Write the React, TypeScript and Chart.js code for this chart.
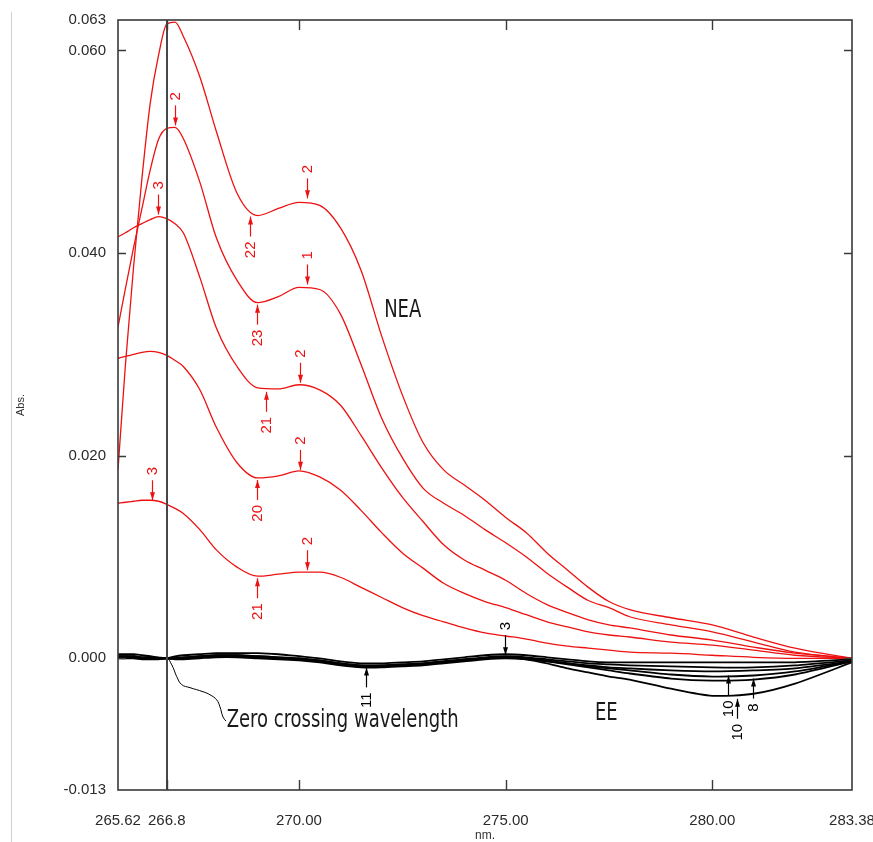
import React, { useEffect, useRef } from "react";
import { Chart, registerables } from "chart.js";

Chart.register(...registerables);

// ---------- data ----------
const wavelengths = [
  265.62, 265.8, 266.0, 266.2, 266.4, 266.6, 266.8, 267.0, 267.2, 267.6, 268.0, 268.5,
  269.0, 269.5, 270.0, 270.5, 271.0, 271.5, 272.0, 272.5, 273.0, 273.5, 274.0, 274.5,
  275.0, 275.5, 276.0, 276.5, 277.0, 277.5, 278.0, 279.0, 280.0, 281.0, 282.0, 283.38,
];

const neaCurve1 = [
  0.0186, 0.029, 0.0388, 0.0474, 0.0548, 0.0595, 0.0626, 0.0628, 0.0614, 0.0574, 0.052, 0.0459,
  0.0437, 0.0444, 0.045, 0.0447, 0.0425, 0.0383, 0.0318, 0.026, 0.0213, 0.0186, 0.0171, 0.0156,
  0.0139, 0.0124, 0.0104, 0.0087, 0.007, 0.0056, 0.0048, 0.004, 0.0033, 0.0021, 0.001, 0.0,
];
const neaCurve2 = [
  0.0327, 0.0365, 0.0406, 0.0444, 0.0482, 0.0512, 0.0523, 0.0524, 0.0513, 0.0470, 0.0415, 0.0373,
  0.0351, 0.0357, 0.0366, 0.0364, 0.034, 0.029, 0.0237, 0.0198, 0.0168, 0.0153, 0.0141, 0.0127,
  0.0114, 0.01, 0.0084, 0.007, 0.0057, 0.005, 0.0041, 0.0033, 0.0026, 0.0016, 0.0006, 0.0,
];
const neaCurve3 = [
  0.0416, 0.042, 0.0425, 0.0429, 0.0433, 0.0436, 0.0434, 0.0429, 0.042, 0.0376, 0.0326, 0.0288,
  0.0267, 0.0266, 0.027, 0.0265, 0.025, 0.022, 0.0188, 0.0159, 0.0135, 0.0112, 0.0097, 0.0087,
  0.0077, 0.0064, 0.0053, 0.0045, 0.0038, 0.0033, 0.003, 0.0023, 0.0018, 0.0011, 0.0005, 0.0,
];
const neaCurve4 = [
  0.0296, 0.0298, 0.03, 0.0302, 0.0303, 0.0302, 0.0299, 0.0294, 0.0288, 0.0265, 0.0228, 0.0193,
  0.0178, 0.018, 0.0185, 0.0179, 0.0166, 0.0146, 0.0124, 0.0104, 0.0089, 0.0074, 0.0064, 0.0056,
  0.005, 0.0043, 0.0036, 0.0031, 0.0026, 0.0023, 0.0021, 0.0016, 0.0013, 0.0008, 0.0003, 0.0,
];
const neaCurve5 = [
  0.0153, 0.0154, 0.0155, 0.0156, 0.0156, 0.0155, 0.0152, 0.0148, 0.0143, 0.0127, 0.0107, 0.009,
  0.0081, 0.0083, 0.0085, 0.0085, 0.008, 0.007, 0.006, 0.005, 0.0042, 0.0036, 0.003, 0.0025,
  0.0022, 0.0019, 0.0015, 0.0012, 0.001, 0.0008, 0.0006, 0.0005, 0.0003, 0.0001, 0.0, 0.0,
];

const eeCurve1 = [
  0.0004, 0.0004, 0.0004, 0.0003, 0.0002, 0.0001, 0.0, 0.0002, 0.0003, 0.0004, 0.0005, 0.0005,
  0.0005, 0.0004, 0.0002, 0.0, -0.0003, -0.0005, -0.0005, -0.0004, -0.0003, -0.0001, 0.0001, 0.0003,
  0.0004, 0.0003, 0.0001, -0.0001, -0.0003, -0.0004, -0.0004, -0.0004, -0.0004, -0.0004, -0.0004, -0.0001,
];
const eeCurve2 = [
  0.0002, 0.0002, 0.0002, 0.0001, 0.0001, 0.0, 0.0, 0.0, 0.0001, 0.0002, 0.0003, 0.0003,
  0.0002, 0.0001, 0.0, -0.0002, -0.0005, -0.0007, -0.0007, -0.0006, -0.0005, -0.0003, -0.0001, 0.0001,
  0.0002, 0.0001, -0.0001, -0.0003, -0.0005, -0.0006, -0.0007, -0.0008, -0.0009, -0.0009, -0.0007, -0.0002,
];
const eeCurve3 = [
  0.0, 0.0, 0.0, -0.0001, -0.0001, -0.0001, 0.0, -0.0001, -0.0001, 0.0, 0.0001, 0.0001,
  0.0, -0.0001, -0.0002, -0.0004, -0.0007, -0.0009, -0.0009, -0.0008, -0.0007, -0.0005, -0.0003, -0.0001,
  0.0, -0.0001, -0.0003, -0.0005, -0.0007, -0.0009, -0.001, -0.0012, -0.0013, -0.0012, -0.001, -0.0003,
];
const eeCurve4 = [
  0.0001, 0.0001, 0.0001, 0.0, 0.0, 0.0, 0.0, 0.0, 0.0, 0.0001, 0.0002, 0.0002,
  0.0001, 0.0, -0.0001, -0.0003, -0.0006, -0.0008, -0.0008, -0.0007, -0.0006, -0.0004, -0.0002, 0.0,
  0.0001, 0.0, -0.0002, -0.0005, -0.0008, -0.001, -0.0012, -0.0016, -0.0018, -0.0017, -0.0013, -0.0003,
];
const eeCurve5 = [
  0.0002, 0.0002, 0.0002, 0.0001, 0.0001, 0.0, 0.0, 0.0, 0.0001, 0.0002, 0.0003, 0.0003,
  0.0002, 0.0001, 0.0, -0.0002, -0.0005, -0.0007, -0.0007, -0.0006, -0.0005, -0.0003, -0.0001, 0.0,
  0.0001, 0.0, -0.0003, -0.0006, -0.0009, -0.0012, -0.0015, -0.002, -0.0022, -0.0021, -0.0016, -0.0003,
];
const eeCurve6 = [
  0.0001, 0.0001, 0.0001, 0.0, 0.0, 0.0, 0.0, 0.0, 0.0, 0.0001, 0.0002, 0.0002,
  0.0001, 0.0, -0.0001, -0.0003, -0.0006, -0.0008, -0.0008, -0.0007, -0.0006, -0.0004, -0.0002, 0.0,
  0.0001, -0.0001, -0.0005, -0.001, -0.0014, -0.0018, -0.0021, -0.003, -0.0037, -0.0035, -0.0025, -0.0004,
];

const xTickValues = [265.62, 266.8, 270.0, 275.0, 280.0, 283.38];
const xTickLabels = ["265.62", "266.8", "270.00", "275.00", "280.00", "283.38"];
const yTickValues = [-0.013, 0.0, 0.02, 0.04, 0.06, 0.063];
const yTickLabels = ["-0.013", "0.000", "0.020", "0.040", "0.060", "0.063"];

const zeroCrossingWavelength = 266.8;

// leader line from the zero crossing point to its caption
const leaderX = [266.837, 266.951, 267.04, 267.161, 267.362, 267.677, 267.846, 268.008, 268.088, 268.161, 268.233];
const leaderY = [0.0, -0.0009, -0.0018, -0.0026, -0.0029, -0.0033, -0.0036, -0.0041, -0.0048, -0.0058, -0.0062];

// peak / trough markers
const markerWave = [267.0, 266.59, 270.19, 268.81, 270.19, 268.98, 270.02, 269.2, 270.02, 268.98, 266.44, 270.19, 268.98, 274.98, 271.62, 280.38, 280.98, 280.6];
const markerValue = [0.0524, 0.0436, 0.0452, 0.0438, 0.0367, 0.0351, 0.027, 0.0265, 0.0184, 0.0178, 0.0154, 0.0085, 0.0081, 0.0001, -0.0007, -0.0015, -0.0018, -0.0038];
const markerText = ["2", "3", "2", "22", "1", "23", "2", "21", "2", "20", "3", "2", "21", "3", "11", "10", "8", "10"];
const markerSide = [1, 1, 1, -1, 1, -1, 1, -1, 1, -1, 1, 1, -1, 1, -1, -1, -1, -1];
const markerGroup = ["NEA", "NEA", "NEA", "NEA", "NEA", "NEA", "NEA", "NEA", "NEA", "NEA", "NEA", "NEA", "NEA", "EE", "EE", "EE", "EE", "EE"];

// captions (anchored in data units, left / baseline)
const captionText = ["NEA", "EE", "Zero crossing wavelength"];
const captionWave = [272.06, 277.16, 268.25];
const captionValue = [0.0337, -0.0061, -0.0068];

const RED = "#ee1111";
const BLACK = "#000000";
const CAPTION_FONT = "20px 'DejaVu Sans Condensed', 'Liberation Sans', sans-serif";

const toXY = (ys: number[]) => wavelengths.map((w, i) => ({ x: w, y: ys[i] }));

const decorPlugin = {
  id: "decor",
  afterDatasetsDraw(chart: any) {
    const { ctx, chartArea, scales } = chart;
    const { left, top, right, bottom } = chartArea;
    const xs = scales.x;
    const ys = scales.y;
    ctx.save();

    // faint figure border at the far left
    ctx.strokeStyle = "#cfcfcf";
    ctx.lineWidth = 1;
    ctx.beginPath();
    ctx.moveTo(11.5, 12);
    ctx.lineTo(11.5, chart.height);
    ctx.stroke();

    // zero crossing vertical line
    const zx = Math.round(xs.getPixelForValue(zeroCrossingWavelength));
    ctx.strokeStyle = "#474747";
    ctx.lineWidth = 2;
    ctx.beginPath();
    ctx.moveTo(zx, top);
    ctx.lineTo(zx, bottom);
    ctx.stroke();

    // frame
    ctx.strokeStyle = "#3a3a3a";
    ctx.lineWidth = 1.6;
    ctx.strokeRect(left, top, right - left, bottom - top);

    // inward ticks on all four sides
    ctx.lineWidth = 1.4;
    xTickValues.slice(1, -1).forEach((v) => {
      const px = Math.round(xs.getPixelForValue(v)) + 0.5;
      ctx.beginPath();
      ctx.moveTo(px, bottom);
      ctx.lineTo(px, bottom - 10);
      ctx.moveTo(px, top);
      ctx.lineTo(px, top + 10);
      ctx.stroke();
    });
    yTickValues.slice(1, -1).forEach((v) => {
      const py = Math.round(ys.getPixelForValue(v)) + 0.5;
      ctx.beginPath();
      ctx.moveTo(left, py);
      ctx.lineTo(left + 8, py);
      ctx.moveTo(right, py);
      ctx.lineTo(right - 8, py);
      ctx.stroke();
    });

    // markers
    ctx.font = "15px 'Liberation Sans', Arial, sans-serif";
    markerWave.forEach((w, i) => {
      const px = Math.round(xs.getPixelForValue(w)) + 0.5;
      const py = ys.getPixelForValue(markerValue[i]);
      const s = markerSide[i];
      const col = markerGroup[i] === "NEA" ? RED : BLACK;
      ctx.strokeStyle = col;
      ctx.fillStyle = col;
      ctx.lineWidth = 1.2;
      const tip = py - s * 2;
      const end = py - s * 22;
      ctx.beginPath();
      ctx.moveTo(px, tip);
      ctx.lineTo(px, end);
      ctx.stroke();
      ctx.beginPath();
      ctx.moveTo(px, tip);
      ctx.lineTo(px - 2.5, tip - s * 8);
      ctx.lineTo(px + 2.5, tip - s * 8);
      ctx.closePath();
      ctx.fill();
      ctx.save();
      ctx.translate(px, end - s * 5);
      ctx.rotate(-Math.PI / 2);
      ctx.textAlign = s === 1 ? "left" : "right";
      ctx.textBaseline = "middle";
      ctx.fillText(markerText[i], 0, 0);
      ctx.restore();
    });

    // captions (tall, narrow lettering as in the source figure)
    ctx.font = CAPTION_FONT;
    ctx.fillStyle = "#1a1a1a";
    ctx.textAlign = "left";
    ctx.textBaseline = "alphabetic";
    captionText.forEach((t, i) => {
      ctx.save();
      ctx.translate(xs.getPixelForValue(captionWave[i]), ys.getPixelForValue(captionValue[i]));
      ctx.scale(1, 1.2);
      ctx.fillText(t, 0, 0);
      ctx.restore();
    });

    ctx.restore();
  },
};

export default function App() {
  const ref = useRef<HTMLCanvasElement | null>(null);

  useEffect(() => {
    if (!ref.current) return;
    const neaSeries = [neaCurve1, neaCurve2, neaCurve3, neaCurve4, neaCurve5];
    const eeSeries = [eeCurve1, eeCurve2, eeCurve3, eeCurve4, eeCurve5, eeCurve6];
    const datasets: any[] = [
      ...eeSeries.map((s, i) => ({
        label: "EE " + (i + 1),
        data: toXY(s),
        borderColor: BLACK,
        borderWidth: 1.8,
        pointRadius: 0,
        tension: 0.25,
      })),
      ...neaSeries.map((s, i) => ({
        label: "NEA " + (i + 1),
        data: toXY(s),
        borderColor: RED,
        borderWidth: 1.3,
        pointRadius: 0,
        cubicInterpolationMode: "monotone",
      })),
      {
        label: "leader",
        data: leaderX.map((x, i) => ({ x, y: leaderY[i] })),
        borderColor: BLACK,
        borderWidth: 1,
        pointRadius: 0,
        tension: 0.4,
      },
    ];

    const chart = new Chart(ref.current, {
      type: "line",
      data: { datasets },
      plugins: [decorPlugin],
      options: {
        animation: false,
        responsive: false,
        devicePixelRatio: 1,
        layout: { padding: { left: 0, right: 21, top: 20, bottom: 0 } },
        plugins: { legend: { display: false }, tooltip: { enabled: false } },
        scales: {
          x: {
            type: "linear",
            min: 265.62,
            max: 283.38,
            grid: { display: false },
            border: { display: false },
            afterBuildTicks: (s: any) => {
              s.ticks = xTickValues.map((v) => ({ value: v }));
            },
            afterFit: (s: any) => {
              s.height = 52;
              s.paddingLeft = 0;
              s.paddingRight = 0;
            },
            ticks: {
              autoSkip: false,
              maxRotation: 0,
              minRotation: 0,
              padding: 14,
              color: "#2a2a2a",
              font: { family: "'Liberation Sans', Arial, sans-serif", size: 15 },
              callback: (_v: any, i: number) => xTickLabels[i],
            },
            title: {
              display: true,
              text: "nm.",
              color: "#333",
              font: { family: "'Liberation Sans', Arial, sans-serif", size: 12, lineHeight: 1 },
              padding: { top: 0, bottom: 0 },
            },
          },
          y: {
            type: "linear",
            min: -0.013,
            max: 0.063,
            grid: { display: false },
            border: { display: false },
            afterBuildTicks: (s: any) => {
              s.ticks = yTickValues.map((v) => ({ value: v }));
            },
            afterFit: (s: any) => {
              s.width = 118;
              s.paddingTop = 0;
              s.paddingBottom = 0;
            },
            ticks: {
              autoSkip: false,
              padding: 4,
              color: "#2a2a2a",
              font: { family: "'Liberation Sans', Arial, sans-serif", size: 15 },
              callback: (_v: any, i: number) => yTickLabels[i],
            },
            title: {
              display: true,
              text: "Abs.",
              color: "#333",
              font: { family: "'Liberation Sans', Arial, sans-serif", size: 11, lineHeight: 1.2 },
              padding: { top: 14, bottom: 0 },
            },
          },
        },
      } as any,
    });
    return () => chart.destroy();
  }, []);

  return (
    <div style={{ position: "fixed", left: 0, top: 0, width: 873, height: 842, background: "#fff" }}>
      <canvas ref={ref} width={873} height={842} style={{ width: 873, height: 842, display: "block" }} />
    </div>
  );
}
